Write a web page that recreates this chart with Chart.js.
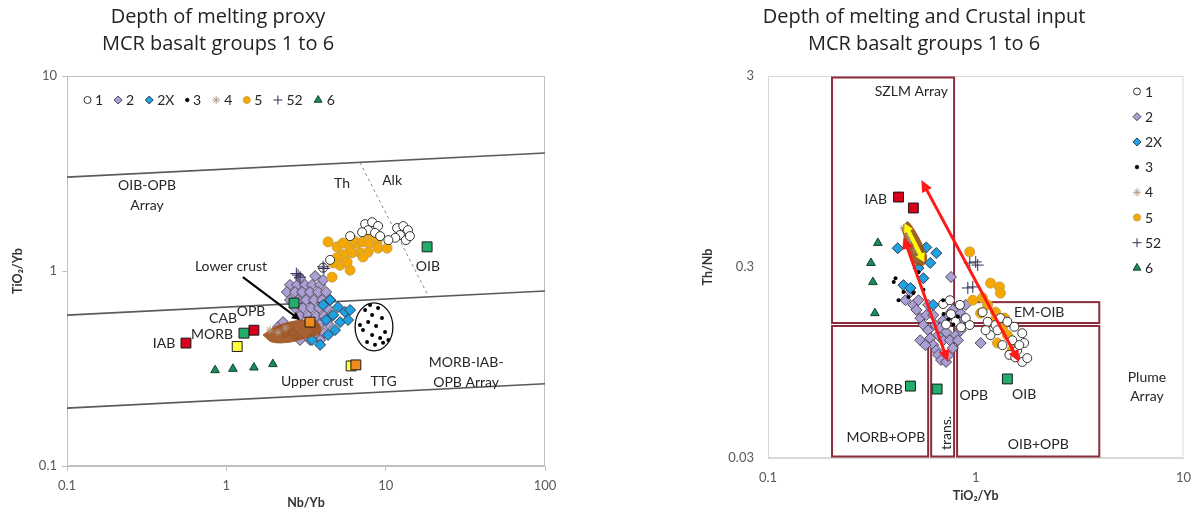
<!DOCTYPE html>
<html><head><meta charset="utf-8">
<script src="https://cdn.jsdelivr.net/npm/chart.js@4/dist/chart.umd.min.js"></script>
<style>
html,body{margin:0;padding:0;background:#fff;}
#wrap{position:relative;width:1203px;height:515px;overflow:hidden;}
.panel{position:absolute;top:0;height:515px;}
#left{left:0;width:600px;}
#right{left:600px;width:603px;}
</style></head><body>
<div id="wrap">
  <div class="panel" id="left"><canvas id="c1" width="600" height="515"></canvas></div>
  <div class="panel" id="right"><canvas id="c2" width="603" height="515"></canvas></div>
</div>
<script>
// ---------- Left panel: Nb/Yb vs TiO2/Yb ----------
const nbybTicks = [0.1, 1, 10, 100];
const tiybTicksL = [0.1, 1, 10];

const leftG1 = [[7.43,1.74],[8.22,1.78],[8.96,1.70],[7.76,1.62],[8.57,1.57],[9.23,1.51],[7.11,1.58],[11.8,1.66],[12.9,1.70],[13.8,1.62],[12.3,1.53],[13.4,1.44],[11.5,1.48],[14.2,1.51],[10.4,1.44],[4.48,1.14],[4.05,1.04],[5.98,1.51]];
const leftG2 = [[2.51,0.848],[2.78,0.848],[3.12,0.848],[3.45,0.848],[3.88,0.848],
  [2.40,0.780],[2.70,0.780],[2.99,0.780],[3.35,0.780],[3.77,0.780],[4.23,0.780],
  [2.51,0.710],[2.82,0.710],[3.16,0.710],[3.55,0.710],[3.99,0.710],[4.48,0.710],
  [2.70,0.646],[3.03,0.646],[3.40,0.646],[3.82,0.646],[4.29,0.646],
  [2.90,0.588],[3.26,0.588],[3.66,0.588],[4.10,0.588],[4.61,0.588],
  [3.45,0.535],[3.88,0.535],[4.35,0.535],
  [2.34,0.481],[2.62,0.481],[3.66,0.481],[4.10,0.481],
  [2.90,0.443],[3.35,0.443],[3.88,0.443],
  [2.11,0.516],[2.27,0.547],[2.90,0.920],[3.61,0.942],[4.05,0.899]];
const leftG2X = [[4.05,0.670],[4.48,0.710],[5.02,0.653],[5.56,0.617],[4.68,0.595],[4.23,0.561],[5.18,0.547],[5.81,0.561],[4.81,0.498],[4.35,0.470],[3.88,0.418],[5.98,0.631],[3.45,0.443]];
const leftG3 = [[7.43,0.631],[8.22,0.595],[8.96,0.646],[9.48,0.574],[7.76,0.547],[8.71,0.523],[7.21,0.498],[8.22,0.470],[9.23,0.453],[9.91,0.486],[7.64,0.432],[8.57,0.418],[9.63,0.428],[10.4,0.443],[7.98,0.670],[6.90,0.529]];
const leftG4 = [[1.88,0.498],[2.11,0.486],[2.34,0.510]];
const leftG5 = [[4.35,1.41],[4.95,1.33],[5.40,1.39],[5.98,1.31],[6.61,1.39],[7.21,1.41],[7.98,1.39],[8.83,1.41],[8.96,1.31],[10.2,1.31],[7.76,1.25],[6.90,1.24],[6.15,1.24],[5.40,1.21],[4.95,1.17],[5.18,1.07],[4.68,1.10],[5.98,1.01],[4.61,0.93],[7.64,1.57],[8.57,1.49],[6.24,1.44],[7.21,1.18],[5.73,1.11]];
const leftG52 = [[2.82,0.953],[2.90,0.930],[2.75,0.970],[4.05,1.05],[4.10,1.03]];
const leftG6 = [[0.85,0.31],[1.10,0.315],[1.49,0.32],[1.96,0.333]];

// reference compositions: OIB, OPB, lower crust, CAB/OPB, MORB, yellow, IAB, upper crust, TTG
const leftRefPts = [[18.2,1.33],[2.66,0.685],[3.35,0.547],[1.49,0.497],[1.29,0.48],[1.17,0.41],[0.558,0.427],[6.07,0.326],[6.5,0.33]];
const leftRefFill = ['#22ad6a','#22ad6a','#f28a1e','#d8001c','#22ad6a','#ffff3a','#d8001c','#ffff3a','#f28a1e'];

const arrayBoundaries = [[[0.1,3.03],[100,4.03]],[[0.1,0.594],[100,0.789]],[[0.1,0.198],[100,0.264]]];
const thAlkDivide = [[6.9,3.6],[18.5,0.745]];
const lowerCrustField = [[1.70,0.470],[2.02,0.516],[2.51,0.547],[3.12,0.561],[3.77,0.541],[3.88,0.481],[3.12,0.453],[2.51,0.432],[1.94,0.432],[1.70,0.470]];
const group3Ellipse = [6.43, 11.1, 0.389, 0.686];
const lowerCrustPointer = [[1.27,0.93],[2.90,0.561]];
const leftLabels = [['OIB-OPB',0.318,2.73],['Array',0.318,2.18],['Th',5.32,2.82],['Alk',10.97,2.90],['OIB',18.4,1.06],
  ['Lower crust',1.07,1.05],['CAB',0.953,0.574],['OPB',1.43,0.617],['MORB',0.813,0.475],['IAB',0.406,0.423],
  ['Upper crust',3.72,0.270],['TTG',9.7,0.270],['MORB-IAB-',32.0,0.341],['OPB Array',32.0,0.267]];

// ---------- Right panel: TiO2/Yb vs Th/Nb ----------
const tiybTicksR = [0.1, 1, 10];
const thnbTicks = [0.03, 0.3, 3];

const rightG1 = [[0.697,0.192],[0.751,0.201],[1.079,0.174],[1.141,0.155],[1.178,0.132],[1.245,0.149],[1.315,0.162],[1.420,0.155],[1.535,0.146],[1.675,0.135],[1.710,0.120],[1.585,0.110],[1.675,0.0955],[1.770,0.100],[1.452,0.104],[1.345,0.117],[1.116,0.140],[1.500,0.124],[1.621,0.117],[1.273,0.140],[0.895,0.162],[0.936,0.149],[0.839,0.190],[1.550,0.101],[0.76,0.170],[0.80,0.155],[0.72,0.150],[0.85,0.145]];
const rightG2 = [[0.459,0.201],[0.485,0.222],[0.501,0.190],[0.518,0.179],[0.541,0.162],[0.530,0.201],[0.560,0.149],[0.578,0.168],[0.590,0.140],[0.604,0.127],[0.624,0.117],[0.646,0.110],[0.659,0.104],[0.681,0.0978],[0.720,0.0955],[0.736,0.103],[0.697,0.124],[0.659,0.132],[0.638,0.149],[0.675,0.144],[0.720,0.137],[0.751,0.124],[0.776,0.113],[0.803,0.132],[0.821,0.149],[0.794,0.162],[0.849,0.140],[0.867,0.158],[0.839,0.174],[0.895,0.190],[0.760,0.266],[1.056,0.120],[0.541,0.124],[0.572,0.117],[0.697,0.158],[0.736,0.168],[0.776,0.179],[0.821,0.124],[0.624,0.168],[0.590,0.190]];
const rightG2X = [[0.421,0.376],[0.541,0.364],[0.604,0.315],[0.646,0.355],[0.578,0.380],[0.449,0.241],[0.624,0.190],[0.560,0.262],[0.485,0.233],[0.530,0.296]];
const rightG3 = [[0.411,0.262],[0.403,0.250],[0.474,0.209],[0.501,0.219],[0.530,0.282],[0.697,0.201],[0.449,0.222],[0.425,0.201],[0.560,0.228],[0.74,0.160],[0.78,0.150],[0.82,0.165],[0.70,0.170]];
const rightG4 = [[0.449,0.480],[0.485,0.415],[0.518,0.368],[0.474,0.442]];
const rightG5 = [[0.936,0.360],[1.178,0.247],[1.301,0.236],[1.315,0.219],[1.056,0.172],[1.375,0.162],[1.468,0.106],[1.273,0.120],[1.141,0.190],[1.245,0.174],[1.420,0.132],[1.550,0.117],[0.968,0.201],[1.345,0.144],[1.204,0.155],[1.079,0.207],[1.500,0.110]];
const rightG52 = [[0.936,0.315],[1.022,0.307],[0.916,0.233],[0.968,0.236],[1.0,0.319]];
const rightG6 = [[0.338,0.401],[0.313,0.315],[0.320,0.250],[0.327,0.172]];

// IAB x2, MORB, transitional, OIB
const rightRefPts = [[0.425,0.697],[0.501,0.611],[0.485,0.0714],[0.652,0.0689],[1.42,0.0778]];
const rightRefFill = ['#d8001c','#d8001c','#22ad6a','#22ad6a','#22ad6a'];

// field boxes [xmin, xmax, ymin, ymax]
const fieldBoxes = [[0.2,0.8,0.15,3],[0.2,0.6,0.03,0.15],[0.6,0.8,0.03,0.15],[0.8,4,0.03,0.15],[0.8,4,0.15,0.2]];
const trendArrows = [[[0.547,0.857],[1.62,0.0955]],[[0.449,0.431],[0.736,0.0955]]];
const crustArrow = [[0.454,0.509],[0.565,0.318]];
const rightCrustField = [[0.440,0.480],[0.474,0.516],[0.578,0.347],[0.560,0.307],[0.501,0.319],[0.440,0.480]];
const rightLabels = [['SZLM Array',0.490,2.48],['IAB',0.330,0.681],['EM-OIB',2.02,0.174],['MORB',0.353,0.0689],['OPB',0.978,0.0641],
  ['OIB',1.71,0.0649],['MORB+OPB',0.369,0.0386],['OIB+OPB',2.0,0.0355],['Plume',6.67,0.0796],['Array',6.67,0.0633]];
const rightVertLabels = [['trans.',0.720,0.0406]];

// ---------- styles ----------
const FONT = "Lato, 'DejaVu Sans', sans-serif";
const STY = {
  g1:  {pointStyle:'circle',   radius:4.5, bg:'#ffffff', bd:'#333333', bw:1, lr:3.5},
  g2:  {pointStyle:'rectRot',  radius:5.5, bg:'#ab9fd3', bd:'#4b4858', bw:1, lr:4},
  g2x: {pointStyle:'rectRot',  radius:5.5, bg:'#1ea2e3', bd:'#2d3a48', bw:1, lr:4},
  g3:  {pointStyle:'circle',   radius:2,   bg:'#000000', bd:'#000000', bw:0, lr:1.8},
  g4:  {pointStyle:'star',     radius:4,   bg:'#b09a86', bd:'#b09a86', bw:1, lr:4},
  g5:  {pointStyle:'circle',   radius:5,   bg:'#f6a800', bd:'#c9a24a', bw:1, lr:3.5},
  g52: {pointStyle:'cross',    radius:6,   bg:'#2e2e55', bd:'#2e2e55', bw:1, lr:4.5},
  g6:  {pointStyle:'triangle', radius:5,   bg:'#1c8a5a', bd:'#10452e', bw:1, lr:4.5}
};

function pts(arr){ return arr.map(p => ({x:p[0], y:p[1]})); }
function groupSet(name, arr, s, order){
  return {type:'scatter', label:name, legendText:name, data:pts(arr), showLine:false, order,
    pointStyle:s.pointStyle, pointRadius:s.radius, pointBackgroundColor:s.bg,
    pointBorderColor:s.bd, pointBorderWidth:s.bw, legendRadius:s.lr};
}
function refSet(arr, fills, order){
  return {type:'scatter', label:'ref', data:pts(arr), showLine:false, order,
    pointStyle:'rect', pointRadius:7, pointBackgroundColor:fills,
    pointBorderColor:'#1a1a1a', pointBorderWidth:1};
}
function lineSet(arr, color, width, dash, order){
  return {type:'line', label:'line', data:pts(arr), showLine:true, order, fill:false,
    borderColor:color, borderWidth:width, borderDash:dash, pointRadius:0, tension:0};
}
function shapeSet(arr, color, order){
  return {type:'line', label:'field', data:pts(arr), showLine:true, order, fill:'shape',
    backgroundColor:color, borderColor:color, borderWidth:1, pointRadius:0, tension:0.35};
}

// ---------- plugins ----------
const panelTitle = {
  id:'panelTitle',
  afterDraw(chart, args, o){
    const ctx = chart.ctx; ctx.save();
    ctx.font = o.font; ctx.fillStyle = '#222'; ctx.textAlign = 'center'; ctx.textBaseline = 'middle';
    o.lines.forEach((t,i) => ctx.fillText(t, o.x, o.y + i*o.step));
    ctx.restore();
  }
};

const insetLegend = {
  id:'insetLegend',
  afterDraw(chart, args, o){
    const ctx = chart.ctx; ctx.save();
    ctx.font = o.font; ctx.textBaseline = 'middle'; ctx.textAlign = 'left';
    let x = o.x, y = o.y;
    chart.data.datasets.filter(d => d.legendText).forEach(d => {
      const r = d.legendRadius;
      const cx = o.vertical ? x : x + r;
      ctx.fillStyle = d.pointBackgroundColor; ctx.strokeStyle = d.pointBorderColor;
      ctx.lineWidth = Math.max(d.pointBorderWidth, 0.8);
      Chart.helpers.drawPoint(ctx, {pointStyle:d.pointStyle, radius:r, rotation:0, borderWidth:Math.max(d.pointBorderWidth,0.8)}, cx, y);
      ctx.fillStyle = '#262626';
      const tx = o.vertical ? x + o.textGap : cx + r + o.textGap;
      ctx.fillText(d.legendText, tx, y + 0.5);
      if (o.vertical) y += o.step;
      else x = tx + ctx.measureText(d.legendText).width + o.itemGap;
    });
    ctx.restore();
  }
};

function arrowHead(ctx, x1, y1, x2, y2, len, wid){
  const a = Math.atan2(y2 - y1, x2 - x1), c = Math.cos(a), s = Math.sin(a);
  ctx.beginPath(); ctx.moveTo(x2, y2);
  ctx.lineTo(x2 - len*c + wid*s, y2 - len*s - wid*c);
  ctx.lineTo(x2 - len*c - wid*s, y2 - len*s + wid*c);
  ctx.closePath(); ctx.fill();
}
function drawArrow(ctx, p, q, color, width, len, wid, both){
  const a = Math.atan2(q[1]-p[1], q[0]-p[0]), c = Math.cos(a), s = Math.sin(a);
  const sx = both ? p[0] + len*0.8*c : p[0], sy = both ? p[1] + len*0.8*s : p[1];
  ctx.strokeStyle = color; ctx.fillStyle = color; ctx.lineWidth = width; ctx.lineCap = 'butt';
  ctx.beginPath(); ctx.moveTo(sx, sy); ctx.lineTo(q[0] - len*0.8*c, q[1] - len*0.8*s); ctx.stroke();
  arrowHead(ctx, p[0], p[1], q[0], q[1], len, wid);
  if (both) arrowHead(ctx, q[0], q[1], p[0], p[1], len, wid);
}

const notes = {
  id:'notes',
  beforeDatasetsDraw(chart, args, o){
    const ctx = chart.ctx, X = v => chart.scales.x.getPixelForValue(v), Y = v => chart.scales.y.getPixelForValue(v);
    const a = chart.chartArea;
    ctx.save();
    ctx.strokeStyle = o.frameColor; ctx.lineWidth = 1;
    ctx.strokeRect(a.left + 0.5, a.top + 0.5, a.right - a.left - 1, a.bottom - a.top - 1);
    (o.boxes || []).forEach(b => {
      const x1 = X(b[0]) + 1.5, x2 = X(b[1]) - 1.5, y1 = Y(b[3]) + 1.5, y2 = Y(b[2]) - 1.5;
      ctx.strokeStyle = '#8a2c3c'; ctx.lineWidth = 2;
      ctx.strokeRect(x1, y1, x2 - x1, y2 - y1);
    });
    ctx.restore();
  },
  afterDatasetsDraw(chart, args, o){
    const ctx = chart.ctx, X = v => chart.scales.x.getPixelForValue(v), Y = v => chart.scales.y.getPixelForValue(v);
    ctx.save();
    (o.ellipses || []).forEach(e => {
      const x1 = X(e[0]), x2 = X(e[1]), y1 = Y(e[3]), y2 = Y(e[2]);
      ctx.strokeStyle = '#111'; ctx.lineWidth = 1.3;
      ctx.beginPath(); ctx.ellipse((x1+x2)/2, (y1+y2)/2, (x2-x1)/2, (y2-y1)/2, 0, 0, Math.PI*2); ctx.stroke();
    });
    (o.arrows || []).forEach(ar => {
      drawArrow(ctx, [X(ar.from[0]), Y(ar.from[1])], [X(ar.to[0]), Y(ar.to[1])], ar.color, ar.width, ar.len, ar.wid, ar.both);
    });
    ctx.font = o.font; ctx.fillStyle = '#262626'; ctx.textAlign = 'center'; ctx.textBaseline = 'middle';
    (o.labels || []).forEach(l => ctx.fillText(l[0], X(l[1]), Y(l[2])));
    (o.vlabels || []).forEach(l => {
      ctx.save(); ctx.translate(X(l[1]), Y(l[2])); ctx.rotate(-Math.PI/2);
      ctx.fillText(l[0], 0, 0); ctx.restore();
    });
    ctx.restore();
  }
};

function logAxis(min, max, ticks, title, pos, fit, tickOpts){
  return {
    type:'logarithmic', position:pos, min, max,
    afterBuildTicks: ax => { ax.ticks = ticks.map(v => ({value:v})); },
    afterFit: ax => { if (pos === 'left') ax.width = fit; else ax.height = fit; },
    ticks:{ autoSkip:false, maxRotation:0, callback: v => String(v), color:'#595959',
      font:{family:FONT, size:13}, padding:tickOpts.pad },
    grid:{ display:tickOpts.ticks, drawOnChartArea:false, drawTicks:tickOpts.ticks, tickLength:5, color:'#bfbfbf' },
    border:{ display:true, color:tickOpts.border },
    title:{ display:true, text:title, color:'#333', font:{family:FONT, size:12.5, weight:'bold'}, padding:tickOpts.tpad }
  };
}

const common = { responsive:false, animation:false, events:[], devicePixelRatio:1 };
const LABEL_FONT = `14px ${FONT}`;

// ---------- left chart ----------
new Chart(document.getElementById('c1'), {
  type:'scatter',
  data:{ datasets:[
    ...arrayBoundaries.map(l => lineSet(l, '#5a5a5a', 1.6, [], 100)),
    lineSet(thAlkDivide, '#8c8c8c', 1, [3,3], 99),
    groupSet('1', leftG1, STY.g1, 44),
    groupSet('2', leftG2, STY.g2, 50),
    groupSet('2X', leftG2X, STY.g2x, 49),
    groupSet('3', leftG3, STY.g3, 43),
    groupSet('4', leftG4, STY.g4, 38),
    groupSet('5', leftG5, STY.g5, 45),
    groupSet('52', leftG52, STY.g52, 42),
    groupSet('6', leftG6, STY.g6, 41),
    shapeSet(lowerCrustField, 'rgba(160,82,30,0.92)', 40),
    refSet(leftRefPts, leftRefFill, 10)
  ]},
  options:{ ...common,
    layout:{ padding:{left:0, right:55, top:76, bottom:0} },
    plugins:{ legend:{display:false}, tooltip:{enabled:false}, title:{display:false},
      panelTitle:{ lines:['Depth of melting proxy','MCR basalt groups 1 to 6'], x:218, y:17, step:27, font:"20px 'Open Sans', sans-serif" },
      insetLegend:{ x:84, y:100, vertical:false, textGap:4, itemGap:11, font:LABEL_FONT },
      notes:{ frameColor:'#bfbfbf', font:LABEL_FONT, labels:leftLabels, ellipses:[group3Ellipse],
        arrows:[{from:lowerCrustPointer[0], to:lowerCrustPointer[1], color:'#000', width:2, len:8, wid:4, both:false}] }
    },
    scales:{
      x: logAxis(0.1, 100, nbybTicks, 'Nb/Yb', 'bottom', 49, {pad:7, tpad:{bottom:5}, ticks:true, border:'#bfbfbf'}),
      y: logAxis(0.1, 10, tiybTicksL, 'TiO₂/Yb', 'left', 67, {pad:5, tpad:{top:10}, ticks:true, border:'#bfbfbf'})
    }
  },
  plugins:[notes, insetLegend, panelTitle]
});

// ---------- right chart ----------
new Chart(document.getElementById('c2'), {
  type:'scatter',
  data:{ datasets:[
    groupSet('1', rightG1, STY.g1, 44),
    groupSet('2', rightG2, STY.g2, 50),
    groupSet('2X', rightG2X, STY.g2x, 49),
    groupSet('3', rightG3, STY.g3, 43),
    groupSet('4', rightG4, STY.g4, 38),
    groupSet('5', rightG5, STY.g5, 45),
    groupSet('52', rightG52, STY.g52, 42),
    groupSet('6', rightG6, STY.g6, 41),
    shapeSet(rightCrustField, 'rgba(150,80,25,0.9)', 39),
    refSet(rightRefPts, rightRefFill, 10)
  ]},
  options:{ ...common,
    layout:{ padding:{left:90, right:15, top:76, bottom:0} },
    plugins:{ legend:{display:false}, tooltip:{enabled:false}, title:{display:false},
      panelTitle:{ lines:['Depth of melting and Crustal input','MCR basalt groups 1 to 6'], x:324, y:17, step:27, font:"20px 'Open Sans', sans-serif" },
      insetLegend:{ x:537, y:91.5, vertical:true, step:25.2, textGap:8, font:LABEL_FONT },
      notes:{ frameColor:'#d9d9d9', font:LABEL_FONT, boxes:fieldBoxes, labels:rightLabels, vlabels:rightVertLabels,
        arrows:[
          ...trendArrows.map(t => ({from:t[0], to:t[1], color:'#ff1a1a', width:3, len:12, wid:5.5, both:true})),
          {from:crustArrow[0], to:crustArrow[1], color:'#ffff00', width:4, len:9, wid:5, both:true}
        ] }
    },
    scales:{
      x: logAxis(0.1, 10, tiybTicksR, 'TiO₂/Yb', 'bottom', 57, {pad:12, tpad:{bottom:12}, ticks:false, border:'#d9d9d9'}),
      y: logAxis(0.03, 3, thnbTicks, 'Th/Nb', 'left', 78, {pad:14, tpad:{top:10}, ticks:false, border:'#d9d9d9'})
    }
  },
  plugins:[notes, insetLegend, panelTitle]
});
</script>
</body></html>
